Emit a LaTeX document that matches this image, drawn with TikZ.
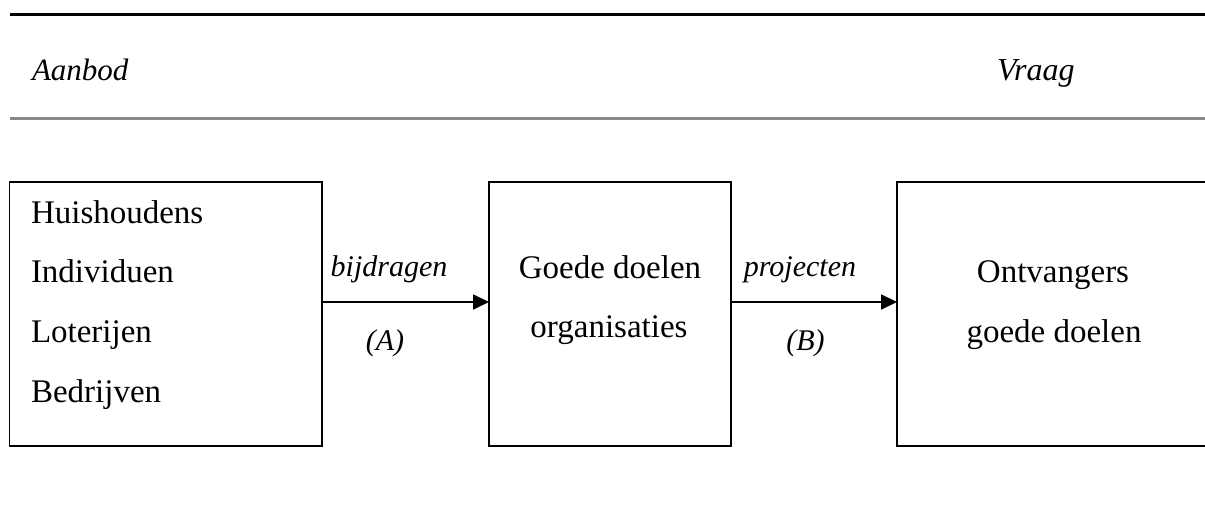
\documentclass[tikz,border=0pt]{standalone}
\usepackage{fontspec}
\setmainfont{Liberation Serif}
\usetikzlibrary{arrows.meta}
\definecolor{rulegray}{HTML}{888888}
\tikzset{
  txt/.style={inner sep=0pt, outer sep=0pt, font=\fontsize{33}{39}\selectfont},
  itxt/.style={inner sep=0pt, outer sep=0pt, font=\itshape\fontsize{30}{36}\selectfont},
  boxnode/.style={draw, line width=1.8pt, inner sep=0pt, outer sep=0pt, minimum height=264pt},
  flow/.style={line width=1.8pt, -{Triangle[length=16pt,width=15pt]}},
}
\begin{document}
\begin{tikzpicture}[x=1pt,y=-1pt]
\useasboundingbox (0,0) rectangle (1205,522);
\clip (0,0) rectangle (1205,522);
% header rules
\coordinate (tl) at (10,14.5);
\coordinate (tr) at (1210,14.5);
\coordinate (gl) at (10,118.5);
\coordinate (gr) at (1210,118.5);
\draw[line width=2.6pt] (tl) -- (tr);
\draw[line width=2.6pt, rulegray] (gl) -- (gr);
\node[itxt, anchor=base west, font=\itshape\fontsize{31}{37}\selectfont] (aanbod) at (32,80) {Aanbod};
\node[itxt, anchor=base west, font=\itshape\fontsize{32}{38}\selectfont] (vraag) at (997,80) {Vraag};
% boxes
\node[boxnode, minimum width=312.5pt] (L) at (165.75,314) {};
\node[boxnode, minimum width=242pt] (M) at (610,314) {};
\node[boxnode, minimum width=314pt] (R) at (1054,314) {};
% left texts
\node[txt, anchor=base west] (l1) at (31,223) {Huishoudens};
\node[txt, anchor=base west] (l2) at (31,282) {Individuen};
\node[txt, anchor=base west] (l3) at (31,342) {Loterijen};
\node[txt, anchor=base west] (l4) at (31,402) {Bedrijven};
% middle texts
\node[txt, anchor=base] (m1) at (610,278) {Goede doelen};
\node[txt, anchor=base] (m2) at (609,337) {organisaties};
% right texts
\node[txt, anchor=base] (r1) at (1053,282) {Ontvangers};
\node[txt, anchor=base] (r2) at (1054,342) {goede doelen};
% arrows
\coordinate (ay) at (0,302);
\draw[flow] (L.east |- ay) -- (M.west |- ay);
\draw[flow] (M.east |- ay) -- (R.west |- ay);
\node[itxt, anchor=base] (bij) at (389,276) {bijdragen};
\node[itxt, anchor=base] (A) at (385,350) {(A)};
\node[itxt, anchor=base] (proj) at (800,276) {projecten};
\node[itxt, anchor=base] (B) at (805.5,350) {(B)};
\end{tikzpicture}
\end{document}
